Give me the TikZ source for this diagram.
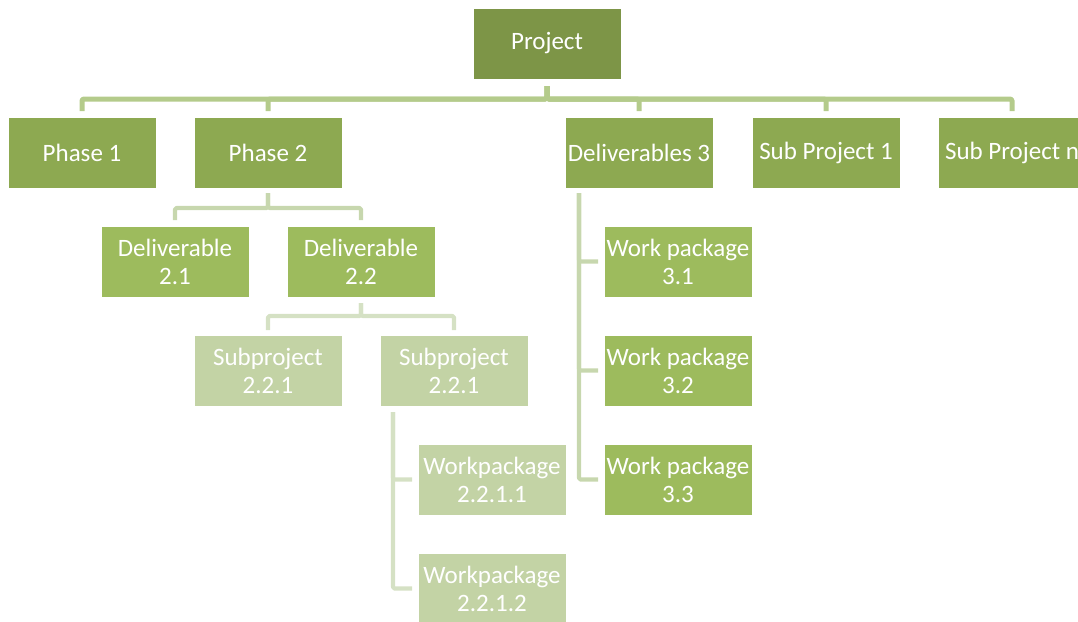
\documentclass[tikz,border=0pt]{standalone}
\usepackage{fontspec}
\setmainfont{Carlito}
\begin{document}
\begin{tikzpicture}[x=1pt,y=-1pt,
  box/.style={draw=white, line width=0.6pt, text=white, align=center,
    minimum width=148pt, minimum height=71pt, inner sep=0pt, outer sep=0pt,
    anchor=north west, font=\fontsize{25}{28}\selectfont},
  top/.style={box, fill=topgreen},
  lvA/.style={box, fill=midgreen},
  lvB/.style={box, fill=lightgreen},
  lvC/.style={box, fill=palegreen},
  link/.style={line join=round, rounded corners=1.5pt},
  linkA/.style={link, draw=linkgreenA, line width=5pt},
  linkB/.style={link, draw=linkgreenB, line width=4.2pt},
  linkC/.style={link, draw=linkgreenC, line width=4.2pt}]

\definecolor{topgreen}{HTML}{7D9547}
\definecolor{midgreen}{HTML}{8DA951}
\definecolor{lightgreen}{HTML}{9DBB5D}
\definecolor{palegreen}{HTML}{C3D3A5}
\definecolor{linkgreenA}{HTML}{B4CB8B}
\definecolor{linkgreenB}{HTML}{C7D7AE}
\definecolor{linkgreenC}{HTML}{D5E1C4}

\useasboundingbox (0,0) rectangle (1078,621);

% top level
\node[top] (proj) at (473,8) {Project};

% second level
\node[lvA] (ph1) at (8,117) {Phase 1};
\node[lvA] (ph2) at (194,117) {Phase 2};
\node[lvA] (del3) at (565,117) {Deliverables 3};
\node[lvA] (sub1) at (752,117) {Sub Project 1};
\node[lvA] (subn) at (938,117) {Sub Project n};

% deliverables of phase 2
\node[lvB] (d21) at (101,226) {Deliverable\\2.1};
\node[lvB] (d22) at (287,226) {Deliverable\\2.2};

% subprojects of deliverable 2.2
\node[lvC] (sp1) at (194,335) {Subproject\\2.2.1};
\node[lvC] (sp2) at (380,335) {Subproject\\2.2.1};

% work packages of the second subproject
\node[lvC] (wpa) at (418,444) {Workpackage\\2.2.1.1};
\node[lvC] (wpb) at (418,553) {Workpackage\\2.2.1.2};

% work packages of deliverables 3
\node[lvB] (w31) at (604,226) {Work package\\3.1};
\node[lvB] (w32) at (604,335) {Work package\\3.2};
\node[lvB] (w33) at (604,444) {Work package\\3.3};

% project -> second level
\foreach \c in {ph1,ph2,del3,sub1,subn}
  \draw[linkA, shorten <=7pt, shorten >=6pt] (proj.south) -- ++(0,20) -| (\c.north);

% phase 2 -> deliverables
\foreach \c in {d21,d22}
  \draw[linkB, shorten <=5pt, shorten >=6pt] (ph2.south) -- ++(0,20) -| (\c.north);

% deliverable 2.2 -> subprojects
\foreach \c in {sp1,sp2}
  \draw[linkC, shorten <=6pt, shorten >=5pt] (d22.south) -- ++(0,19) -| (\c.north);

% subproject -> work packages (side tree)
\foreach \c in {wpa,wpb}
  \draw[linkC, shorten >=6pt] ([xshift=13pt,yshift=-6pt]sp2.south west) |- (\c.west);

% deliverables 3 -> work packages (side tree)
\foreach \c in {w31,w32,w33}
  \draw[linkB, shorten >=6pt] ([xshift=14pt,yshift=-5pt]del3.south west) |- (\c.west);
\end{tikzpicture}
\end{document}
